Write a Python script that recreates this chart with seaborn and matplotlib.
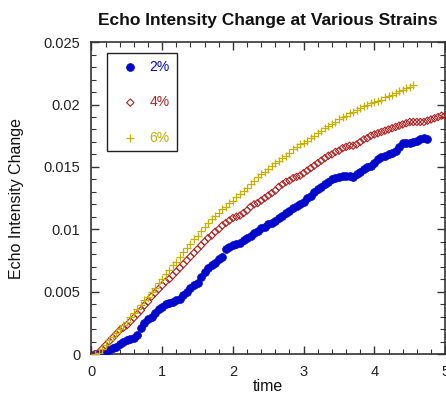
import matplotlib
matplotlib.use("Agg")
import matplotlib.pyplot as plt
from matplotlib.ticker import MultipleLocator, FuncFormatter
import seaborn as sns
import pandas as pd

# ---- data ----
time_2 = [0.05, 0.10, 0.15, 0.20, 0.25, 0.30, 0.35, 0.40, 0.45, 0.50,
          0.55, 0.60, 0.65, 0.70, 0.75, 0.80, 0.85, 0.90, 0.95, 1.00,
          1.05, 1.10, 1.15, 1.20, 1.25, 1.30, 1.35, 1.40, 1.45, 1.50,
          1.55, 1.60, 1.65, 1.70, 1.75, 1.80, 1.85, 1.90, 1.95, 2.00,
          2.05, 2.10, 2.15, 2.20, 2.25, 2.30, 2.35, 2.40, 2.45, 2.50,
          2.55, 2.60, 2.65, 2.70, 2.75, 2.80, 2.85, 2.90, 2.95, 3.00,
          3.05, 3.10, 3.15, 3.20, 3.25, 3.30, 3.35, 3.40, 3.45, 3.50,
          3.55, 3.60, 3.65, 3.70, 3.75, 3.80, 3.85, 3.90, 3.95, 4.00,
          4.05, 4.10, 4.15, 4.20, 4.25, 4.30, 4.35, 4.40, 4.45, 4.50,
          4.55, 4.60, 4.65, 4.70, 4.75]
strain_2 = [0.0000, 0.0000, 0.0001, 0.0002, 0.0003, 0.0005, 0.0006, 0.0008, 0.0010, 0.0011,
            0.0012, 0.0013, 0.0015, 0.0021, 0.0025, 0.0028, 0.0030, 0.0033, 0.0036, 0.0038,
            0.0040, 0.0041, 0.0042, 0.0043, 0.0044, 0.0047, 0.0050, 0.0053, 0.0055, 0.0057,
            0.0062, 0.0066, 0.0069, 0.0071, 0.0073, 0.0076, 0.0078, 0.0084, 0.0086, 0.0087,
            0.0088, 0.0089, 0.0091, 0.0093, 0.0095, 0.0097, 0.0099, 0.0101, 0.0102, 0.0104,
            0.0105, 0.0107, 0.0109, 0.0111, 0.0113, 0.0115, 0.0117, 0.0119, 0.0120, 0.0122,
            0.0125, 0.0127, 0.0130, 0.0132, 0.0134, 0.0136, 0.0138, 0.0140, 0.0141, 0.0142,
            0.0143, 0.0143, 0.0143, 0.0142, 0.0144, 0.0146, 0.0148, 0.0150, 0.0151, 0.0153,
            0.0156, 0.0158, 0.0159, 0.0160, 0.0161, 0.0163, 0.0166, 0.0169, 0.0169, 0.0169,
            0.0170, 0.0171, 0.0172, 0.0173, 0.0172]

time_4 = [0.05, 0.10, 0.15, 0.20, 0.25, 0.30, 0.35, 0.40, 0.45, 0.50,
          0.55, 0.60, 0.65, 0.70, 0.75, 0.80, 0.85, 0.90, 0.95, 1.00,
          1.05, 1.10, 1.15, 1.20, 1.25, 1.30, 1.35, 1.40, 1.45, 1.50,
          1.55, 1.60, 1.65, 1.70, 1.75, 1.80, 1.85, 1.90, 1.95, 2.00,
          2.05, 2.10, 2.15, 2.20, 2.25, 2.30, 2.35, 2.40, 2.45, 2.50,
          2.55, 2.60, 2.65, 2.70, 2.75, 2.80, 2.85, 2.90, 2.95, 3.00,
          3.05, 3.10, 3.15, 3.20, 3.25, 3.30, 3.35, 3.40, 3.45, 3.50,
          3.55, 3.60, 3.65, 3.70, 3.75, 3.80, 3.85, 3.90, 3.95, 4.00,
          4.05, 4.10, 4.15, 4.20, 4.25, 4.30, 4.35, 4.40, 4.45, 4.50,
          4.55, 4.60, 4.65, 4.70, 4.75, 4.80, 4.85, 4.90, 4.95, 5.00]
strain_4 = [0.0000, 0.0001, 0.0004, 0.0007, 0.0010, 0.0013, 0.0016, 0.0019, 0.0021, 0.0023,
            0.0026, 0.0029, 0.0032, 0.0035, 0.0039, 0.0042, 0.0046, 0.0049, 0.0052, 0.0055,
            0.0058, 0.0060, 0.0063, 0.0066, 0.0069, 0.0072, 0.0075, 0.0078, 0.0081, 0.0084,
            0.0087, 0.0090, 0.0093, 0.0095, 0.0098, 0.0100, 0.0103, 0.0105, 0.0107, 0.0109,
            0.0110, 0.0111, 0.0113, 0.0115, 0.0118, 0.0120, 0.0121, 0.0123, 0.0125, 0.0127,
            0.0129, 0.0131, 0.0134, 0.0136, 0.0138, 0.0139, 0.0141, 0.0142, 0.0143, 0.0145,
            0.0147, 0.0149, 0.0151, 0.0153, 0.0155, 0.0157, 0.0159, 0.0160, 0.0162, 0.0163,
            0.0165, 0.0166, 0.0167, 0.0167, 0.0168, 0.0170, 0.0172, 0.0173, 0.0175, 0.0176,
            0.0177, 0.0178, 0.0179, 0.0180, 0.0181, 0.0182, 0.0183, 0.0184, 0.0185, 0.0186,
            0.0186, 0.0186, 0.0186, 0.0186, 0.0187, 0.0188, 0.0189, 0.0190, 0.0191, 0.0191]

time_6 = [0.05, 0.10, 0.15, 0.20, 0.25, 0.30, 0.35, 0.40, 0.45, 0.50,
          0.55, 0.60, 0.65, 0.70, 0.75, 0.80, 0.85, 0.90, 0.95, 1.00,
          1.05, 1.10, 1.15, 1.20, 1.25, 1.30, 1.35, 1.40, 1.45, 1.50,
          1.55, 1.60, 1.65, 1.70, 1.75, 1.80, 1.85, 1.90, 1.95, 2.00,
          2.05, 2.10, 2.15, 2.20, 2.25, 2.30, 2.35, 2.40, 2.45, 2.50,
          2.55, 2.60, 2.65, 2.70, 2.75, 2.80, 2.85, 2.90, 2.95, 3.00,
          3.05, 3.10, 3.15, 3.20, 3.25, 3.30, 3.35, 3.40, 3.45, 3.50,
          3.55, 3.60, 3.65, 3.70, 3.75, 3.80, 3.85, 3.90, 3.95, 4.00,
          4.05, 4.10, 4.15, 4.20, 4.25, 4.30, 4.35, 4.40, 4.45, 4.50,
          4.55]
strain_6 = [0.0000, 0.0001, 0.0004, 0.0007, 0.0011, 0.0014, 0.0017, 0.0020, 0.0023, 0.0026,
            0.0030, 0.0033, 0.0036, 0.0039, 0.0043, 0.0046, 0.0050, 0.0053, 0.0057, 0.0060,
            0.0064, 0.0067, 0.0071, 0.0074, 0.0078, 0.0082, 0.0085, 0.0088, 0.0092, 0.0095,
            0.0099, 0.0102, 0.0105, 0.0108, 0.0111, 0.0113, 0.0116, 0.0118, 0.0121, 0.0123,
            0.0126, 0.0128, 0.0131, 0.0133, 0.0136, 0.0139, 0.0142, 0.0144, 0.0146, 0.0148,
            0.0151, 0.0153, 0.0155, 0.0157, 0.0159, 0.0161, 0.0164, 0.0166, 0.0168, 0.0169,
            0.0171, 0.0173, 0.0175, 0.0177, 0.0179, 0.0181, 0.0183, 0.0184, 0.0186, 0.0188,
            0.0190, 0.0191, 0.0193, 0.0194, 0.0196, 0.0197, 0.0199, 0.0200, 0.0201, 0.0202,
            0.0203, 0.0204, 0.0206, 0.0207, 0.0208, 0.0209, 0.0211, 0.0212, 0.0213, 0.0214,
            0.0216]

labels = ["2%", "4%", "6%"]
colors = ["#0008CC", "#B02020", "#C8B000"]

# ---- style ----
sns.set_style("ticks")
plt.rcParams["font.family"] = ["Liberation Sans", "DejaVu Sans"]

fig = plt.figure(figsize=(4.46, 3.94), dpi=100)
ax = fig.add_axes([0.205, 0.1015, 0.793, 0.7915])

df2 = pd.DataFrame({"time": time_2, "v": strain_2})
df4 = pd.DataFrame({"time": time_4, "v": strain_4})
df6 = pd.DataFrame({"time": time_6, "v": strain_6})

sns.scatterplot(data=df2, x="time", y="v", ax=ax, marker="o", s=32,
                color=colors[0], edgecolor=colors[0], linewidth=0.5,
                label=labels[0], zorder=3)
sns.scatterplot(data=df4, x="time", y="v", ax=ax, marker="D", s=14,
                facecolor="none", edgecolor=colors[1], linewidth=0.8,
                label=labels[1], zorder=3)
sns.scatterplot(data=df6, x="time", y="v", ax=ax, marker="+", s=32,
                color=colors[2], linewidth=0.9,
                label=labels[2], zorder=3)

ax.set_xlim(0, 5)
ax.set_ylim(0, 0.025)
ax.xaxis.set_major_locator(MultipleLocator(1))
ax.xaxis.set_minor_locator(MultipleLocator(0.2))
ax.yaxis.set_major_locator(MultipleLocator(0.005))
ax.yaxis.set_minor_locator(MultipleLocator(0.001))
ax.yaxis.set_major_formatter(FuncFormatter(lambda v, p: "0" if abs(v) < 1e-12 else f"{v:g}"))

ax.tick_params(which="both", direction="in", top=True, right=True,
               color="#333333", labelcolor="#222222", labelsize=10.5)
ax.tick_params(which="major", length=6, width=1)
ax.tick_params(which="minor", length=3.5, width=0.8)
ax.tick_params(axis="y", which="major", pad=8)
ax.tick_params(axis="x", which="major", pad=8)
for sp in ax.spines.values():
    sp.set_color("#333333")
    sp.set_linewidth(1.2)

ax.set_xlabel("time", fontsize=11.5, color="#111111", labelpad=0)
ax.set_ylabel("Echo Intensity Change", fontsize=11.5, color="#111111", labelpad=14)
fig.text(0.6, 0.948, "Echo Intensity Change at Various Strains",
         ha="center", va="center", fontsize=12.5, fontweight="bold", color="#111111")

leg = ax.legend(loc="upper left", bbox_to_anchor=(0.045, 0.965), frameon=True,
                fancybox=False, edgecolor="#222222", framealpha=1,
                fontsize=10, labelspacing=1.53, handletextpad=0.25,
                borderpad=0.5, handlelength=2.3, borderaxespad=0)
leg.get_frame().set_linewidth(1.0)
for txt, c in zip(leg.get_texts(), colors):
    txt.set_color(c)

fig.savefig("out.png", dpi=100)
